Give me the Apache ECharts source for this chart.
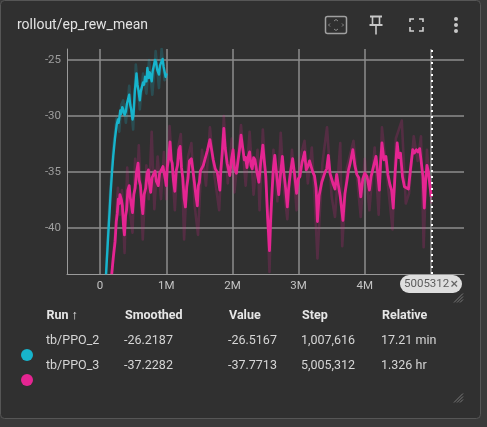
<!DOCTYPE html>
<html><head><meta charset="utf-8">
<style>html,body{margin:0;padding:0;background:#3a3a3a}#c{width:487px;height:427px}</style>
<script src="https://cdn.jsdelivr.net/npm/echarts@6/dist/echarts.min.js"></script>
</head><body><div id="c"></div>
<script>
const title = 'rollout/ep_rew_mean';
const xTicks = [0,1,2,3,4,5];
const xTickLabels = ['0','1M','2M','3M','4M',''];
const yTicks = [-40,-35,-30,-25];
const markerStep = 5.005312;
const markerLabel = '5005312';
const tableHeaders = ['Run ↑','Smoothed','Value','Step','Relative'];
const rowPPO2 = ['tb/PPO_2','-26.2187','-26.5167','1,007,616','17.21 min'];
const rowPPO3 = ['tb/PPO_3','-37.2282','-37.7713','5,005,312','1.326 hr'];

// [step in millions, value]
const ppo2Smoothed = [[0.09,-44.1],[0.11,-42],[0.126,-40.3],[0.145,-38.4],[0.16,-36.8],[0.18,-35],[0.2,-33.5],[0.225,-32],[0.25,-30.8],[0.27,-30.3],[0.28,-30.6],[0.29,-30.2],[0.305,-29.5],[0.32,-29.8],[0.335,-29.2],[0.35,-29.4],[0.37,-29.9],[0.39,-29.6],[0.405,-28.9],[0.42,-28.8],[0.44,-28.1],[0.455,-29],[0.47,-29.4],[0.49,-30.3],[0.505,-29.9],[0.525,-27.8],[0.55,-26.2],[0.565,-27.2],[0.58,-27.7],[0.6,-28.6],[0.615,-27.8],[0.63,-27.8],[0.65,-27],[0.665,-27.2],[0.68,-26.5],[0.7,-26.9],[0.715,-25.7],[0.735,-26.6],[0.75,-26.1],[0.78,-26.9],[0.795,-26],[0.81,-26.1],[0.83,-25],[0.845,-25.2],[0.865,-25.9],[0.89,-26.3],[0.905,-25.5],[0.925,-25.4],[0.945,-24.9],[0.96,-25.6],[0.975,-25.5],[0.99,-26.5],[1.007,-26.2]];
const ppo2Raw = [[0.09,-44.1],[0.126,-39.4],[0.16,-36],[0.2,-32.8],[0.25,-30.2],[0.29,-31.4],[0.32,-29],[0.35,-28.6],[0.39,-30.6],[0.44,-27.3],[0.5,-31.2],[0.54,-25.4],[0.6,-29.4],[0.65,-26.2],[0.7,-28],[0.74,-25],[0.79,-28.1],[0.84,-24.2],[0.89,-27.5],[0.93,-24],[0.975,-26.8],[1.007,-26.5]];
const ppo3Smoothed = [[0.176,-44.1],[0.2,-42.6],[0.227,-41.2],[0.245,-39.4],[0.26,-38.7],[0.275,-37.4],[0.29,-37.8],[0.3,-37],[0.32,-37.4],[0.337,-38],[0.352,-39.6],[0.368,-40.6],[0.385,-38.9],[0.4,-38.4],[0.42,-36.6],[0.44,-36.2],[0.455,-37.2],[0.47,-37.3],[0.49,-38.6],[0.51,-37],[0.53,-36.4],[0.55,-35],[0.574,-34.2],[0.59,-35.7],[0.61,-36.2],[0.63,-37.9],[0.645,-38.7],[0.665,-37],[0.69,-36.4],[0.71,-35.1],[0.73,-34.8],[0.745,-36],[0.765,-36.8],[0.785,-35.5],[0.805,-35.6],[0.83,-34.9],[0.85,-35.8],[0.88,-36.2],[0.9,-35.1],[0.925,-35.2],[0.95,-34.5],[0.967,-34.4],[0.985,-35.6],[1.0,-36.2],[1.015,-34.6],[1.035,-33.8],[1.057,-32.3],[1.075,-33.9],[1.09,-34.2],[1.11,-35.8],[1.13,-36.7],[1.15,-34.9],[1.17,-34.4],[1.19,-33],[1.21,-32.7],[1.23,-34.6],[1.25,-35.5],[1.27,-37.3],[1.29,-38.1],[1.31,-36.3],[1.33,-35.5],[1.35,-34],[1.38,-33.8],[1.4,-34.7],[1.425,-35.9],[1.45,-37.2],[1.47,-38],[1.485,-36.2],[1.5,-35.9],[1.515,-34.9],[1.53,-35],[1.56,-34.4],[1.59,-34.5],[1.62,-33.1],[1.64,-33],[1.66,-32.1],[1.685,-33],[1.71,-33.9],[1.74,-34.7],[1.77,-35],[1.81,-36.6],[1.825,-34.8],[1.845,-33.4],[1.87,-31.1],[1.89,-32.8],[1.92,-34.2],[1.94,-34.1],[1.96,-35.3],[1.985,-33.9],[2.01,-33],[2.03,-34.6],[2.06,-35.1],[2.08,-34.2],[2.105,-33.1],[2.13,-31.7],[2.15,-32.6],[2.18,-33.9],[2.2,-33.7],[2.22,-34.6],[2.24,-33.6],[2.26,-33.2],[2.28,-34.4],[2.3,-34.7],[2.32,-33.7],[2.34,-33.9],[2.37,-35],[2.4,-35.9],[2.43,-34],[2.46,-32.6],[2.48,-33.9],[2.505,-35.4],[2.53,-38.8],[2.56,-42],[2.58,-38.9],[2.6,-36.6],[2.62,-34.6],[2.64,-33.5],[2.67,-35.3],[2.7,-37],[2.73,-35],[2.755,-33.6],[2.775,-34.9],[2.8,-36.2],[2.83,-38.1],[2.85,-36.4],[2.875,-35.1],[2.91,-33.8],[2.94,-35.2],[2.97,-36.9],[2.995,-35.6],[3.02,-35.4],[3.05,-34.2],[3.09,-33.2],[3.115,-34.8],[3.14,-34.5],[3.165,-34],[3.19,-33.9],[3.215,-35],[3.24,-35.3],[3.265,-36.4],[3.285,-39.4],[3.31,-37.1],[3.35,-35.9],[3.375,-36],[3.4,-35],[3.425,-34.7],[3.45,-33.5],[3.475,-35.1],[3.5,-35.2],[3.525,-36.1],[3.55,-36.5],[3.575,-35.2],[3.6,-35.1],[3.63,-37.2],[3.67,-39.3],[3.7,-36.9],[3.73,-35.8],[3.755,-34.8],[3.78,-34.2],[3.82,-33],[3.85,-34.4],[3.88,-35.2],[3.91,-35.5],[3.94,-37.2],[3.97,-35.6],[4.0,-35.1],[4.035,-35.4],[4.07,-36.6],[4.095,-35.4],[4.12,-35.4],[4.145,-34.2],[4.17,-33.6],[4.195,-35],[4.22,-36.6],[4.24,-34.1],[4.26,-32.4],[4.29,-33.9],[4.32,-33.6],[4.35,-35.2],[4.38,-36.1],[4.405,-36.6],[4.43,-38.2],[4.46,-35],[4.49,-32.4],[4.515,-33.7],[4.54,-33.3],[4.57,-35.4],[4.6,-36.3],[4.63,-36.2],[4.66,-36.5],[4.69,-34.8],[4.725,-33],[4.75,-33.3],[4.78,-33],[4.805,-33.2],[4.83,-32.9],[4.86,-32.9],[4.88,-35.4],[4.9,-38.2],[4.92,-35.8],[4.94,-34.4],[4.96,-34.9],[4.98,-35],[5.005,-37.2]];
const ppo3Raw = [[0.176,-44.1],[0.23,-40.2],[0.27,-36.4],[0.3,-38.8],[0.33,-36.6],[0.37,-42.2],[0.41,-34.6],[0.44,-38],[0.49,-40.4],[0.53,-33.8],[0.56,-36],[0.585,-32.6],[0.645,-41],[0.7,-34.4],[0.735,-37.4],[0.78,-31.4],[0.82,-38.3],[0.87,-33.6],[0.92,-37.4],[0.965,-33.2],[1.0,-37.4],[1.05,-30.9],[1.13,-38.4],[1.18,-32.8],[1.22,-31.6],[1.27,-41],[1.33,-33.6],[1.38,-32.4],[1.43,-38],[1.48,-40.6],[1.54,-33],[1.6,-36.2],[1.66,-31],[1.73,-35.4],[1.8,-38.4],[1.87,-30],[1.93,-36],[1.99,-32],[2.03,-36.8],[2.13,-30.8],[2.2,-36.2],[2.26,-31.4],[2.32,-37],[2.38,-33],[2.41,-38.4],[2.46,-31.2],[2.52,-37.4],[2.56,-43.9],[2.62,-33],[2.68,-37.6],[2.73,-31.5],[2.78,-36.6],[2.83,-39.2],[2.9,-33],[2.97,-38.4],[3.02,-33.8],[3.09,-32.2],[3.14,-36],[3.2,-32.8],[3.24,-37],[3.285,-42.7],[3.36,-34.2],[3.43,-31],[3.5,-37.2],[3.55,-39],[3.63,-32.4],[3.66,-41.6],[3.73,-34.6],[3.83,-32.2],[3.94,-39],[4.0,-33.8],[4.07,-38.4],[4.15,-32.8],[4.21,-38.8],[4.26,-31],[4.33,-35],[4.42,-40.1],[4.47,-32],[4.56,-30.4],[4.62,-37.8],[4.67,-36.9],[4.74,-31.8],[4.8,-34],[4.85,-31.8],[4.89,-41.7],[4.94,-33],[5.005,-37.8]];

const teal = '#17b4cc', pink = '#e52592';
const grid = {left:67,right:23,top:49,bottom:153};

function txt(x,y,t,o){return {type:'text',x,y,z:10,style:Object.assign({text:t,fill:'#d6d6d6',font:'12.5px Roboto',textVerticalAlign:'middle'},o||{})};}
const cols = [46,124,228,301,381];
const graphic = [
  {type:'rect',z:-10,shape:{x:0.5,y:0.5,width:480,height:418,r:4},style:{fill:'#303030',stroke:'#565656',lineWidth:1}},
  txt(17,25,title,{font:'14px Roboto',fill:'#e3e3e3'}),
  {type:'rect',z:10,shape:{x:325.5,y:16.5,width:21,height:17,r:2},style:{fill:'none',stroke:'#a0a0a0',lineWidth:1.5}},
  {type:'polyline',z:10,shape:{points:[[334,21],[336,19.5],[338,21]]},style:{fill:'none',stroke:'#8a8a8a',lineWidth:1}},
  {type:'polyline',z:10,shape:{points:[[334,29],[336,30.5],[338,29]]},style:{fill:'none',stroke:'#8a8a8a',lineWidth:1}},
  {type:'polyline',z:10,shape:{points:[[330,23.5],[328.5,25],[330,26.5]]},style:{fill:'none',stroke:'#8a8a8a',lineWidth:1}},
  {type:'polyline',z:10,shape:{points:[[342,23.5],[343.5,25],[342,26.5]]},style:{fill:'none',stroke:'#8a8a8a',lineWidth:1}},
  {type:'polyline',z:10,shape:{points:[[370,16.5],[382,16.5]]},style:{stroke:'#c8c8c8',lineWidth:2}},
  {type:'polyline',z:10,shape:{points:[[372.5,17],[372.5,24]]},style:{stroke:'#c8c8c8',lineWidth:1.6}},
  {type:'polyline',z:10,shape:{points:[[379.5,17],[379.5,24]]},style:{stroke:'#c8c8c8',lineWidth:1.6}},
  {type:'polyline',z:10,shape:{points:[[369.5,25],[382.5,25]]},style:{stroke:'#c8c8c8',lineWidth:2}},
  {type:'polyline',z:10,shape:{points:[[376,25],[376,34.5]]},style:{stroke:'#c8c8c8',lineWidth:1.6}},
  {type:'polyline',z:10,shape:{points:[[410,22],[410,19],[414,19]]},style:{fill:'none',stroke:'#d0d0d0',lineWidth:1.6}},
  {type:'polyline',z:10,shape:{points:[[419,19],[423,19],[423,22]]},style:{fill:'none',stroke:'#d0d0d0',lineWidth:1.6}},
  {type:'polyline',z:10,shape:{points:[[410,27],[410,31],[414,31]]},style:{fill:'none',stroke:'#d0d0d0',lineWidth:1.6}},
  {type:'polyline',z:10,shape:{points:[[419,31],[423,31],[423,27]]},style:{fill:'none',stroke:'#d0d0d0',lineWidth:1.6}},
  {type:'circle',z:10,shape:{cx:456,cy:19,r:2},style:{fill:'#c8c8c8'}},
  {type:'circle',z:10,shape:{cx:456,cy:25,r:2},style:{fill:'#c8c8c8'}},
  {type:'circle',z:10,shape:{cx:456,cy:31,r:2},style:{fill:'#c8c8c8'}},
  {type:'rect',z:10,shape:{x:400,y:275,width:62,height:18,r:9},style:{fill:'#dedede'}},
  txt(404,284.5,markerLabel,{font:'11.5px Roboto',fill:'#5c5c5c'}),
  {type:'polyline',z:11,shape:{points:[[451.5,281],[457,286.5]]},style:{stroke:'#666',lineWidth:1.3}},
  {type:'polyline',z:11,shape:{points:[[457,281],[451.5,286.5]]},style:{stroke:'#666',lineWidth:1.3}},
  ...[0,3,6,9].map(d=>({type:'line',z:10,shape:{x1:463-d,y1:302.5,x2:463,y2:302.5-d},style:{stroke:'#8a8a8a',lineWidth:0.8}})),
  ...[0,3,6,9].map(d=>({type:'line',z:10,shape:{x1:463-d,y1:402.5,x2:463,y2:402.5-d},style:{stroke:'#8a8a8a',lineWidth:0.8}})),
  ...tableHeaders.map((t,i)=>txt(cols[i]+(i==0?0.5:1),316,t,{font:'bold 12.5px Roboto',fill:'#e6e6e6'})),
  ...rowPPO2.map((t,i)=>txt(cols[i],341,t)),
  ...rowPPO3.map((t,i)=>txt(cols[i],366,t)),
  {type:'circle',z:10,shape:{cx:27,cy:355,r:6},style:{fill:teal}},
  {type:'circle',z:10,shape:{cx:27,cy:380,r:6},style:{fill:pink}}
];

function line(name,data,color,width,opacity,z){
  return {name,type:'line',data,showSymbol:false,symbol:'none',z,silent:true,animation:false,clip:true,
    lineStyle:{color,width,opacity,join:'round'},itemStyle:{color}};
}
const s3 = line('tb/PPO_3',ppo3Smoothed,pink,2.8,1,4);
s3.markLine = {silent:true,symbol:'none',animation:false,label:{show:false},
  lineStyle:{color:'#fff',type:[2,4],width:2,opacity:1},data:[{xAxis:markerStep}]};

const chart = echarts.init(document.getElementById('c'),null,{renderer:'canvas'});
chart.setOption({
  animation:false,backgroundColor:'#3a3a3a',grid,graphic,
  xAxis:{type:'value',min:-0.5,max:5.5,
    axisLine:{show:true,onZero:false,lineStyle:{color:'#9a9a9a',width:1}},
    axisTick:{show:false,customValues:xTicks},
    splitLine:{show:true,lineStyle:{color:'#8c8c8c',width:1.5}},
    axisLabel:{customValues:xTicks,color:'#c4c4c4',fontFamily:'Roboto',fontSize:11.5,margin:6,
      hideOverlap:false,showMinLabel:true,showMaxLabel:true,
      formatter:v=>xTickLabels[xTicks.indexOf(v)]??''}},
  yAxis:{type:'value',min:-44.08,max:-24.02,
    axisLine:{show:true,onZero:false,lineStyle:{color:'#9a9a9a',width:1}},
    axisTick:{show:false,customValues:yTicks},
    splitLine:{show:true,lineStyle:{color:'#8c8c8c',width:1.5}},
    axisLabel:{customValues:yTicks,color:'#9e9e9e',fontFamily:'Roboto',fontSize:11.5,margin:6,
      formatter:v=>String(v)}},
  series:[
    line('tb/PPO_3 raw',ppo3Raw,pink,2.6,0.2,2),
    line('tb/PPO_2 raw',ppo2Raw,teal,2.6,0.22,2),
    s3,
    line('tb/PPO_2',ppo2Smoothed,teal,2.4,1,5)
  ]
});
</script></body></html>
